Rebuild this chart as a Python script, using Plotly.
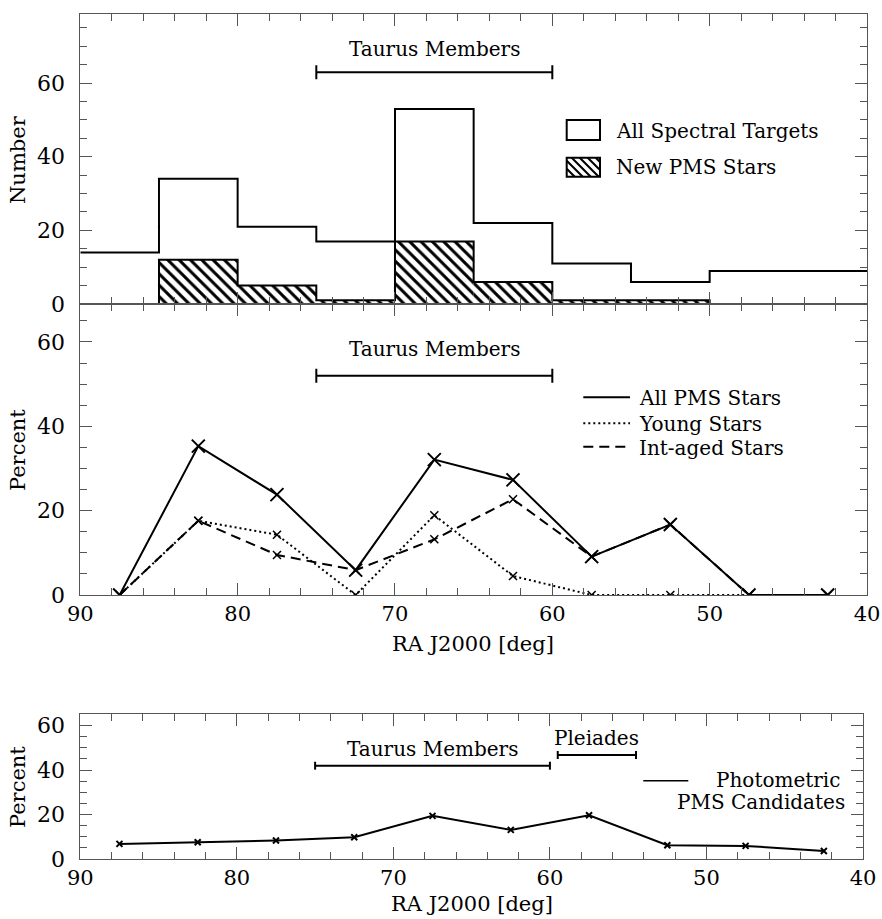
import plotly.graph_objects as go

# ---------------- data ----------------
ra_edges = [90, 85, 80, 75, 70, 65, 60, 55, 50, 45, 40]
ra_centers = [87.5, 82.5, 77.5, 72.5, 67.5, 62.5, 57.5, 52.5, 47.5, 42.5]
all_targets = [14, 34, 21, 17, 53, 22, 11, 6, 9, 9]
new_pms = [0, 12, 5, 1, 17, 6, 1, 1, 0, 0]
pct_all_pms = [0, 35.3, 23.8, 5.9, 32.1, 27.3, 9.1, 16.7, 0, 0]
pct_young = [0, 17.6, 14.3, 0, 18.9, 4.5, 0, 0, 0, 0]
pct_int = [0, 17.6, 9.5, 5.9, 13.2, 22.7, 9.1, 16.7, 0, 0]
pct_phot = [6.8, 7.5, 8.3, 9.8, 19.4, 13.1, 19.7, 6.2, 5.9, 3.6]

taurus_range = [75, 60]
pleiades_range = [59.5, 54.5]
taurus_bar_y = {"top": 63, "mid": 52, "bot": 42}
taurus_text_y = {"top": 69.3, "mid": 58.3, "bot": 49.5}
pleiades_bar_y = 46.8
pleiades_text_y = 54.4

# ---------------- layout helpers ----------------
W, H = 882, 919
FONT = "DejaVu Serif"
FRAME = "#555555"


def px(x):
    return x / W


def py(y):
    return 1 - y / H


fig = go.Figure()

# ---- top panel: histograms ----
fig.add_trace(go.Bar(
    x=ra_centers, y=new_pms, width=5, xaxis="x", yaxis="y",
    marker=dict(color="white", line=dict(width=0),
                pattern=dict(shape="\\", size=8, solidity=0.38, fillmode="replace",
                             fgcolor="#000000", fgopacity=1, bgcolor="white")),
    showlegend=False, hoverinfo="skip"))
fig.add_trace(go.Scatter(
    x=ra_edges, y=new_pms + [new_pms[-1]], mode="lines", line_shape="hv",
    line=dict(color="black", width=2), xaxis="x", yaxis="y", showlegend=False))
fig.add_trace(go.Scatter(
    x=ra_edges, y=all_targets + [all_targets[-1]], mode="lines", line_shape="hv",
    line=dict(color="black", width=2), xaxis="x", yaxis="y", showlegend=False))

# ---- middle panel: percentages ----
fig.add_trace(go.Scatter(
    x=ra_centers, y=pct_young, mode="lines+markers", xaxis="x2", yaxis="y2",
    line=dict(color="black", width=2, dash="2px,3px"),
    marker=dict(symbol="x-thin", size=8, line=dict(color="black", width=1.5)),
    showlegend=False))
fig.add_trace(go.Scatter(
    x=ra_centers, y=pct_int, mode="lines+markers", xaxis="x2", yaxis="y2",
    line=dict(color="black", width=2, dash="10px,6px"),
    marker=dict(symbol="x-thin", size=8, line=dict(color="black", width=1.5)),
    showlegend=False))
fig.add_trace(go.Scatter(
    x=ra_centers, y=pct_all_pms, mode="lines+markers", xaxis="x2", yaxis="y2",
    line=dict(color="black", width=2),
    marker=dict(symbol="x-thin", size=13, line=dict(color="black", width=2)),
    showlegend=False))

# ---- bottom panel ----
fig.add_trace(go.Scatter(
    x=ra_centers, y=pct_phot, mode="lines+markers", xaxis="x3", yaxis="y3",
    line=dict(color="black", width=2),
    marker=dict(symbol="x-thin", size=6, line=dict(color="black", width=2)),
    showlegend=False))

# ---------------- axes ----------------
xdom_main = [px(80.3), px(867)]
xdom_bot = [px(80.3), px(863)]
ydom_top = [py(304), py(14)]
ydom_mid = [py(595), py(304)]
ydom_bot = [py(859), py(714.3)]


def xaxis(domain, anchor, labels):
    return dict(domain=domain, anchor=anchor, range=[90, 40], dtick=10, tick0=0,
                showline=True, linecolor=FRAME, linewidth=1, mirror="allticks",
                ticks="inside", ticklen=12, tickcolor=FRAME, tickwidth=1,
                minor=dict(dtick=2, ticks="inside", ticklen=7, tickcolor=FRAME,
                           tickwidth=1, showgrid=False),
                showgrid=False, zeroline=False, showticklabels=labels,
                tickfont=dict(family=FONT, size=21, color="black"),
                ticklabelstandoff=0, automargin=False, fixedrange=True)


def yaxis(domain, anchor, top):
    return dict(domain=domain, anchor=anchor, range=[0, top], dtick=20, tick0=0,
                showline=True, linecolor=FRAME, linewidth=1, mirror="allticks",
                ticks="inside", ticklen=12, tickcolor=FRAME, tickwidth=1,
                minor=dict(dtick=5, ticks="inside", ticklen=7, tickcolor=FRAME,
                           tickwidth=1, showgrid=False),
                showgrid=False, zeroline=False,
                tickfont=dict(family=FONT, size=22, color="black"),
                ticklabelstandoff=10, automargin=False, fixedrange=True)


shapes = []
annotations = []


def range_bar(xref, yref, rng, y, cap):
    shapes.append(dict(type="line", xref=xref, yref=yref, x0=rng[0], x1=rng[1],
                       y0=y, y1=y, line=dict(color="black", width=2)))
    for xv in rng:
        shapes.append(dict(type="line", xref=xref, yref=yref, x0=xv, x1=xv,
                           ysizemode="pixel", yanchor=y, y0=-cap, y1=cap,
                           line=dict(color="black", width=2)))


def text(x, y, s, xref="paper", yref="paper", xanchor="center", size=20, textangle=0):
    annotations.append(dict(x=x, y=y, xref=xref, yref=yref, text=s, showarrow=False,
                            xanchor=xanchor, yanchor="middle", textangle=textangle,
                            font=dict(family=FONT, size=size, color="black")))


taurus_mid = sum(taurus_range) / 2
pleiades_mid = sum(pleiades_range) / 2

range_bar("x", "y", taurus_range, taurus_bar_y["top"], 7)
text(taurus_mid, taurus_text_y["top"], "Taurus Members", "x", "y")
range_bar("x2", "y2", taurus_range, taurus_bar_y["mid"], 7)
text(taurus_mid, taurus_text_y["mid"], "Taurus Members", "x2", "y2")
range_bar("x3", "y3", taurus_range, taurus_bar_y["bot"], 4)
text(taurus_mid, taurus_text_y["bot"], "Taurus Members", "x3", "y3")
range_bar("x3", "y3", pleiades_range, pleiades_bar_y, 4)
text(pleiades_mid, pleiades_text_y, "Pleiades", "x3", "y3")

# ---- top legend ----
shapes.append(dict(type="rect", xref="paper", yref="paper",
                   x0=px(566.7), x1=px(600), y0=py(140), y1=py(120),
                   line=dict(color="black", width=2), fillcolor="white"))
bx0, bx1, by0, by1 = 566.7, 600, 157.7, 176.7
s = bx0 - (by1 - by0)
while s < bx1:
    xa = max(bx0, s)
    xb = min(bx1, s + (by1 - by0))
    if xb > xa:
        shapes.append(dict(type="line", xref="paper", yref="paper",
                           x0=px(xa), x1=px(xb), y0=py(by0 + xa - s), y1=py(by0 + xb - s),
                           line=dict(color="black", width=2)))
    s += 8
shapes.append(dict(type="rect", xref="paper", yref="paper",
                   x0=px(bx0), x1=px(bx1), y0=py(by1), y1=py(by0),
                   line=dict(color="black", width=2)))
text(px(614), py(131), "All Spectral Targets", xanchor="left")
text(px(614), py(167), "New PMS Stars", xanchor="left")

# ---- middle legend ----
for yy, dash, label in [(397.3, "solid", "All PMS Stars"),
                        (423.3, "2px,3px", "Young Stars"),
                        (446.7, "10px,6px", "Int-aged Stars")]:
    shapes.append(dict(type="line", xref="paper", yref="paper", x0=px(583.3), x1=px(630),
                       y0=py(yy), y1=py(yy), line=dict(color="black", width=2, dash=dash)))
    text(px(637), py(yy + 1), label, xanchor="left")

# ---- bottom legend ----
shapes.append(dict(type="line", xref="paper", yref="paper", x0=px(643.3), x1=px(688.3),
                   y0=py(780.7), y1=py(780.7), line=dict(color="black", width=1.5)))
text(px(842), py(780), "Photometric", xanchor="right")
text(px(847), py(802), "PMS Candidates", xanchor="right")

# ---- axis titles ----
text(px(18), py(160), "Number", size=21, textangle=-90)
text(px(18), py(450), "Percent", size=21, textangle=-90)
text(px(18), py(787), "Percent", size=21, textangle=-90)
text(px(473), py(644), "RA J2000 [deg]", size=21)
text(px(472), py(904), "RA J2000 [deg]", size=21)

fig.update_layout(
    width=W, height=H, margin=dict(l=0, r=0, t=0, b=0),
    paper_bgcolor="white", plot_bgcolor="white", showlegend=False,
    xaxis=xaxis(xdom_main, "y", False),
    yaxis=yaxis(ydom_top, "x", 78.8),
    xaxis2=xaxis(xdom_main, "y2", True),
    yaxis2=yaxis(ydom_mid, "x2", 69),
    xaxis3=xaxis(xdom_bot, "y3", True),
    yaxis3=yaxis(ydom_bot, "x3", 65.1),
    shapes=shapes, annotations=annotations,
)

fig.write_html("out.html")
